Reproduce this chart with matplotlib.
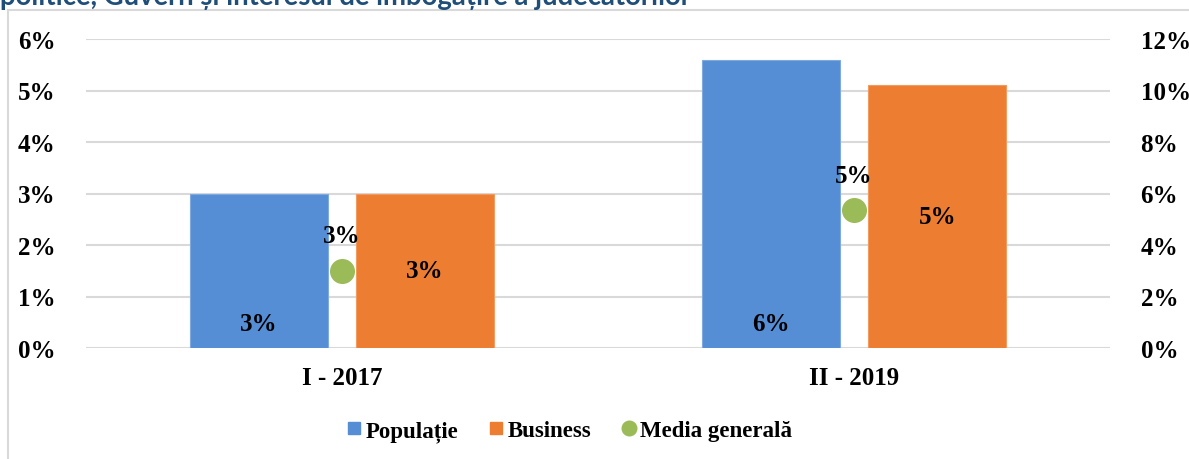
import matplotlib.pyplot as plt
from matplotlib.patches import Rectangle
from matplotlib.lines import Line2D
from matplotlib.ticker import FuncFormatter
import numpy as np

# --- data ---
categories = ["I - 2017", "II - 2019"]
populatie = [3.0, 5.6]      # left axis, %
business = [3.0, 5.1]       # left axis, %
media = [3.0, 5.35]         # right axis, %
left_ticks = [0, 1, 2, 3, 4, 5, 6]
right_ticks = [0, 2, 4, 6, 8, 10, 12]
title = "politice, Guvern și interesul de îmbogățire a judecătorilor"

BLUE = "#558ED5"
ORANGE = "#ED7D31"
GREEN = "#9BBB59"
GRID = "#D9D9D9"
W, H = 1189, 460
SERIF = "Liberation Serif"
FS = 18
FS_LEG = 16.5

fig = plt.figure(figsize=(W / 100, H / 100), dpi=100)

# outer chart frame (only left and top edges visible)
fig.patches.append(Rectangle((8 / W, -0.05), 1.2, 1.05 - 11 / H, transform=fig.transFigure,
                             fill=False, edgecolor=GRID, linewidth=1.5))

# title, cut off at the top as in the source
t = fig.text(0.0, 1 - 5 / H, title, ha="left", va="baseline", fontsize=16,
             fontweight="bold", family="Lato", color="#1F4E79")
r = fig.canvas.get_renderer()
fs = 16
for _ in range(5):
    w = t.get_window_extent(r).width
    fs = fs * 690 / w
    t.set_fontsize(fs)

ax = fig.add_axes([86 / W, 1 - 349 / H, 1024 / W, 309 / H])
ax2 = ax.twinx()

x = np.arange(len(categories))
bw = 0.27
off = 0.1625
ax.bar(x - off, populatie, bw, color=BLUE, edgecolor="#7FAAE0", linewidth=0.8, zorder=2)
ax.bar(x + off, business, bw, color=ORANGE, edgecolor="#F39A5E", linewidth=0.8, zorder=2)
ax2.plot(x, media, "o", color=GREEN, markersize=17, zorder=3)

ax.set_xlim(-0.5, 1.5)
ax.set_ylim(0, 6)
ax2.set_ylim(0, 12)
ax.set_yticks(left_ticks)
ax2.set_yticks(right_ticks)
pct = FuncFormatter(lambda v, p: f"{v:.0f}%")
ax.yaxis.set_major_formatter(pct)
ax2.yaxis.set_major_formatter(pct)
ax.set_xticks(x)
ax.set_xticklabels(categories)

for a in (ax, ax2):
    for s in a.spines.values():
        s.set_visible(False)
    a.tick_params(length=0, labelsize=FS)
    for lab in a.get_yticklabels() + a.get_xticklabels():
        lab.set_family(SERIF)
        lab.set_fontweight("bold")
ax.tick_params(axis="y", pad=22)
ax2.tick_params(axis="y", pad=22)
ax.tick_params(axis="x", pad=13)
ax.grid(axis="y", color=GRID, linewidth=1.5, zorder=0)
ax.set_axisbelow(True)
ax2.patch.set_visible(False)

lab_kw = dict(fontsize=FS, fontweight="bold", family=SERIF, color="black", zorder=5)
for xi, v in zip(x, populatie):
    ax.annotate(f"{round(v)}%", (xi - off, 0), xytext=(0, 24), textcoords="offset pixels",
                ha="center", va="center", **lab_kw)
for xi, v in zip(x, business):
    ax.text(xi + off, v / 2, f"{round(v)}%", ha="center", va="center", **lab_kw)
for xi, v in zip(x, media):
    ax2.annotate(f"{round(v)}%", (xi, v), xytext=(0, 35), textcoords="offset pixels",
                 ha="center", va="center", **lab_kw)

handles = [
    Line2D([], [], marker="s", linestyle="", color=BLUE, markersize=9),
    Line2D([], [], marker="s", linestyle="", color=ORANGE, markersize=9),
    Line2D([], [], marker="o", linestyle="", color=GREEN, markersize=10.5),
]
fig.legend(handles, ["Populație", "Business", "Media generală"], loc="center",
           bbox_to_anchor=(569 / W, 1 - 432 / H), ncol=3, frameon=False,
           prop={"family": SERIF, "weight": "bold", "size": FS_LEG},
           handlelength=0.7, handletextpad=0.15, columnspacing=1.3)

fig.savefig("out.png", dpi=100)
